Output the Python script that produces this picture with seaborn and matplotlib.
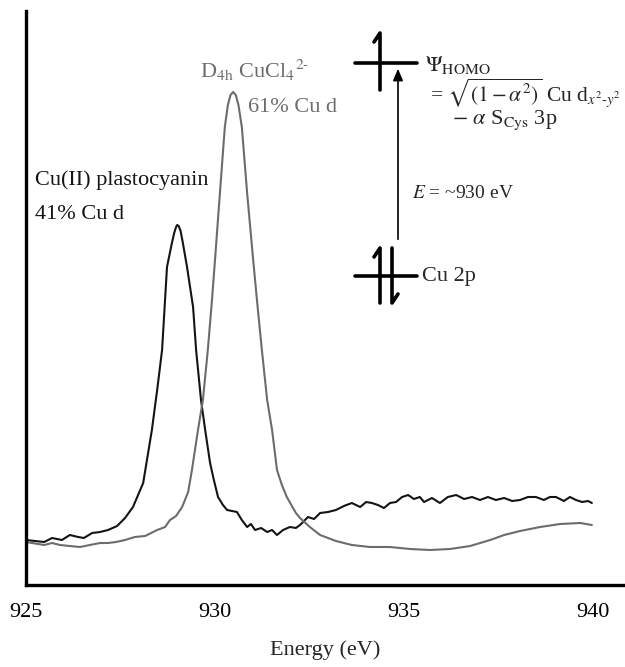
import numpy as np
import pandas as pd
import matplotlib
matplotlib.use("Agg")
import matplotlib.pyplot as plt
from matplotlib.lines import Line2D
import seaborn as sns

# ---------------- data ----------------
black_energy = [925.00, 925.48, 925.69, 925.95, 926.16, 926.38, 926.53, 926.75, 926.96, 927.17,
                927.41, 927.62, 927.83, 928.10, 928.33, 928.47, 928.60, 928.73, 928.86, 928.92,
                928.97, 929.00, 929.04, 929.09, 929.15, 929.26, 929.42, 929.50, 929.63, 929.74,
                929.87, 929.97, 930.08, 930.21, 930.32, 930.45, 930.58, 930.71, 930.85, 930.95,
                931.06, 931.22, 931.38, 931.51, 931.64, 931.80, 931.98, 932.14, 932.25, 932.46,
                932.62, 932.78, 932.99, 933.20, 933.41, 933.62, 933.84, 934.00, 934.15, 934.31,
                934.47, 934.63, 934.79, 934.95, 935.11, 935.26, 935.42, 935.53, 935.74, 935.95,
                936.16, 936.38, 936.59, 936.80, 937.01, 937.22, 937.43, 937.65, 937.86, 938.07,
                938.28, 938.49, 938.70, 938.86, 939.02, 939.23, 939.39, 939.55, 939.71, 939.87,
                939.97]
black_signal = [45, 43, 47, 45, 50, 48, 47, 52, 53, 55,
                59, 67, 78, 102, 155, 195, 235, 318, 342, 352,
                358, 360, 359, 354, 342, 318, 278, 235, 185, 155,
                122, 105, 88, 80, 75, 74, 73, 65, 58, 61,
                55, 57, 53, 55, 50, 55, 58, 57, 60, 68,
                66, 72, 73, 75, 79, 82, 78, 83, 82, 80,
                77, 82, 83, 88, 90, 86, 88, 83, 87, 82,
                88, 90, 86, 88, 85, 88, 85, 87, 84, 85,
                88, 88, 85, 88, 88, 84, 88, 85, 83, 84,
                82]

gray_energy = [925.00, 925.48, 925.69, 925.90, 926.16, 926.43, 926.69, 926.96, 927.17, 927.38,
               927.62, 927.88, 928.15, 928.47, 928.68, 928.81, 928.97, 929.13, 929.29, 929.39,
               929.55, 929.68, 929.81, 929.92, 930.00, 930.13, 930.26, 930.34, 930.41, 930.48,
               930.55, 930.62, 930.71, 930.85, 931.01, 931.11, 931.24, 931.38, 931.51, 931.64,
               931.77, 931.90, 932.14, 932.25, 932.51, 932.78, 933.20, 933.62, 934.10, 934.63,
               935.16, 935.69, 936.22, 936.75, 937.28, 937.65, 938.07, 938.60, 939.13, 939.66,
               939.97]
gray_signal = [43, 40, 42, 40, 39, 38, 40, 42, 42, 43,
               45, 48, 49, 55, 58, 65, 69, 78, 93, 115,
               155, 185, 235, 285, 325, 392, 458, 480, 490, 493,
               490, 480, 458, 392, 325, 285, 235, 185, 155, 115,
               100, 88, 72, 67, 58, 50, 44, 40, 38, 38,
               36, 35, 36, 39, 45, 50, 54, 58, 61, 62,
               60]

x_ticks = [925, 930, 935, 940]

df = pd.concat([
    pd.DataFrame({"Energy": black_energy, "Signal": black_signal, "sample": "plastocyanin"}),
    pd.DataFrame({"Energy": gray_energy, "Signal": gray_signal, "sample": "CuCl4"}),
])

# ---------------- style ----------------
sns.set_style("white")
plt.rcParams["font.family"] = ["Liberation Serif", "DejaVu Serif"]
plt.rcParams["mathtext.fontset"] = "stix"

W, H = 625, 667
fig = plt.figure(figsize=(W / 100, H / 100), dpi=100)
ax = fig.add_axes([26 / W, 1 - 585 / H, (625 - 26) / W, (585 - 11) / H])

sns.lineplot(data=df, x="Energy", y="Signal", hue="sample",
             palette={"plastocyanin": "#141414", "CuCl4": "#6c6c6c"},
             linewidth=1.5, legend=False, ax=ax, sort=False)

ax.set_xlim(925, 925 + (625 - 26) / 37.8)
ax.set_ylim(0, 574)
ax.set_xticks(x_ticks)
ax.set_xticklabels([str(t) for t in x_ticks], fontsize=16)
ax.set_yticks([])
ax.set_xlabel("Energy (eV)", fontsize=16, labelpad=13)
ax.set_ylabel("")
for s in ["top", "right"]:
    ax.spines[s].set_visible(False)
for s in ["left", "bottom"]:
    ax.spines[s].set_linewidth(2.4)
    ax.spines[s].set_color("black")
ax.tick_params(axis="x", direction="out", length=7, width=1.2, pad=6, colors="black")


def fx(px):
    return px / W


def fy(py):
    return 1 - py / H


# curve labels
fig.text(fx(35), fy(180), "Cu(II) plastocyanin", fontsize=16, color="#141414", va="center")
fig.text(fx(35), fy(214), "41% Cu d", fontsize=16, color="#141414", va="center")
fig.text(fx(200), fy(70), r"D$_{\rm 4h}$ CuCl$_4$$^{2\text{-}}$", fontsize=16, color="#6c6c6c", va="center")
fig.text(fx(248), fy(108), "61% Cu d", fontsize=16, color="#6c6c6c", va="center")

# energy-level diagram
lw = 2.6
fig.add_artist(Line2D([fx(355), fx(417)], [fy(63), fy(63)], color="black", lw=lw))
fig.add_artist(Line2D([fx(380), fx(380), fx(374)], [fy(90), fy(33), fy(42)], color="black", lw=lw))
fig.add_artist(Line2D([fx(355), fx(417)], [fy(276), fy(276)], color="black", lw=lw))
fig.add_artist(Line2D([fx(380), fx(380), fx(374)], [fy(303), fy(248), fy(257)], color="black", lw=lw))
fig.add_artist(Line2D([fx(392), fx(392), fx(398)], [fy(248), fy(303), fy(294)], color="black", lw=lw))
ax.annotate("", xy=(fx(398), fy(66)), xytext=(fx(398), fy(242)),
            xycoords="figure fraction", textcoords="figure fraction",
            arrowprops=dict(arrowstyle="-|>,head_length=0.7,head_width=0.3", color="black", lw=1.2))

fig.text(fx(425), fy(65), r"$\Psi_{\rm HOMO}$", fontsize=16, va="center")
fig.text(fx(430), fy(93), r"= $\sqrt{(1-\alpha^2)}$ Cu d$_{x^2\text{-}y^2}$", fontsize=15.5, va="center")
fig.text(fx(452), fy(120), r"$-\ \alpha$ S$_{\rm Cys}$ 3p", fontsize=16, va="center")
fig.text(fx(412), fy(194), r"$E$ = ~930 eV", fontsize=14, va="center")
fig.text(fx(422), fy(277), "Cu 2p", fontsize=16, va="center")

fig.savefig("out.png", dpi=100)
